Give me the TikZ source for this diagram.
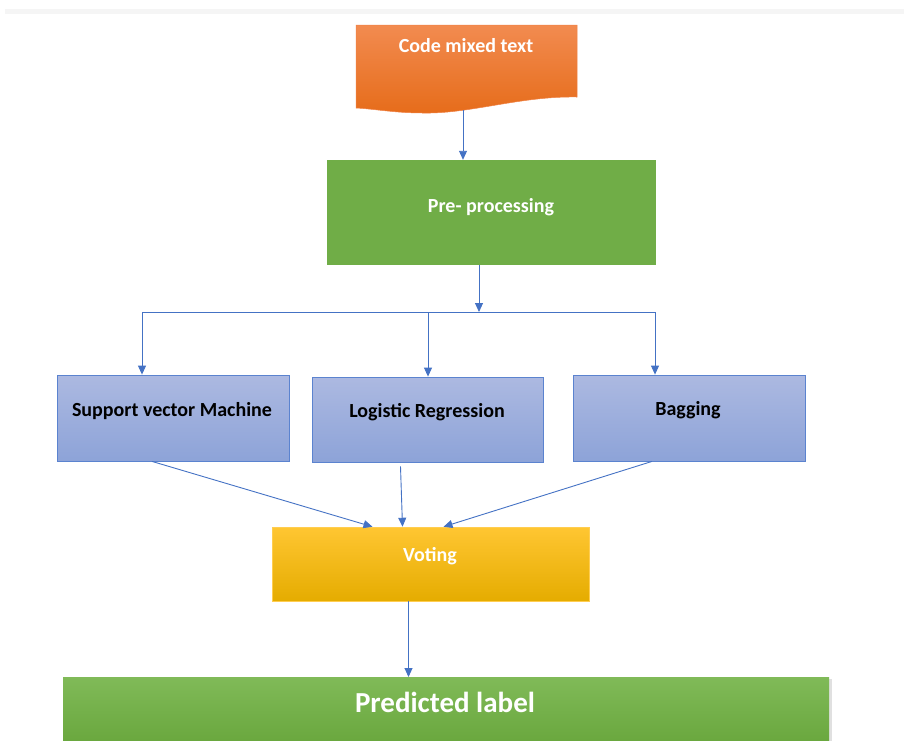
\documentclass[tikz,border=0pt]{standalone}
\usepackage{fontspec}
\setmainfont{Carlito}
\usetikzlibrary{arrows.meta}
\definecolor{arr}{HTML}{4472C4}
\definecolor{bluebd}{HTML}{5B83CF}
\definecolor{bluetop}{RGB}{172,185,225}
\definecolor{bluebot}{RGB}{141,163,216}
\definecolor{ortop}{RGB}{242,139,80}
\definecolor{orbot}{RGB}{230,108,26}
\definecolor{orbd}{RGB}{240,130,70}
\definecolor{grn}{RGB}{112,173,71}
\definecolor{grntop}{RGB}{128,186,88}
\definecolor{grnbot}{RGB}{104,166,60}
\definecolor{yltop}{RGB}{255,198,50}
\definecolor{ylmid}{RGB}{255,192,0}
\definecolor{ylbot}{RGB}{229,172,0}
\definecolor{ylbd}{RGB}{255,205,80}
\tikzset{
  x=1pt,y=-1pt,
  conn/.style={draw=arr,line width=0.9pt},
  arrw/.style={conn,-{Triangle[width=8pt,length=9pt]}},
  bluebox/.style={draw=bluebd,line width=0.8pt,top color=bluetop,bottom color=bluebot},
  lbl/.style={font=\bfseries\fontsize{20}{24}\selectfont},
}
\begin{document}
\begin{tikzpicture}
\useasboundingbox (0,0) rectangle (904,740);
% top gray band
\fill[black!4] (5,9) rectangle (904,14);
% document shape
\path[top color=ortop,bottom color=orbot,draw=orbd,line width=0.5pt]
  (356,25) -- (577,25) -- (577,97) .. controls (520,96) and (470,114) .. (423,113) .. controls (395,113) and (375,109) .. (356,108) -- cycle;
\node[lbl,text=white] (cmt) at (466,46) {Code mixed text};
\coordinate (cmtb) at (463,110);
% pre-processing
\node[fill=grn,minimum width=329pt,minimum height=105pt,inner sep=0pt] (pre) at (491.5,212.5) {};
\node[lbl,text=white] at (491,207) {Pre- processing};
% classifiers
\node[bluebox,minimum width=232pt,minimum height=86pt,inner sep=0pt] (svm) at (173,418) {};
\node[lbl] at (172,411) {Support vector Machine};
\node[bluebox,minimum width=231pt,minimum height=85pt,inner sep=0pt] (lr) at (427.5,419.5) {};
\node[lbl] at (427,412) {Logistic Regression};
\node[bluebox,minimum width=232pt,minimum height=86pt,inner sep=0pt] (bag) at (689,418) {};
\node[lbl] at (688,410) {Bagging};
% voting
\node[draw=ylbd,line width=0.5pt,top color=yltop,middle color=ylmid,bottom color=ylbot,minimum width=317pt,minimum height=74pt,inner sep=0pt] (vote) at (430.5,564) {};
\node[lbl,text=white] at (430,556) {Voting};
% predicted label
\fill[black!12] (65,679) rectangle (832,742);
\node[top color=grntop,bottom color=grnbot,minimum width=766pt,minimum height=70pt,inner sep=0pt,anchor=north west] (pred) at (63,677) {};
\node[font=\bfseries\fontsize{29}{34}\selectfont,text=white] at (445,702) {Predicted label};
% connectors
\draw[arrw] (cmtb) -- (pre.north -| cmtb);
\coordinate (jn) at (479,312);
\draw[arrw] (pre.south -| jn) -- (jn);
\coordinate (jl) at (142,312);
\coordinate (jm) at (428,312);
\coordinate (jr) at (655,312);
\draw[conn] (jl) -- (jr);
\draw[arrw] (jl) -- (svm.north -| jl);
\draw[arrw] (jm) -- (lr.north -| jm);
\draw[arrw] (jr) -- (bag.north -| jr);
\draw[arrw] ([xshift=-21pt]svm.south) -- ([xshift=-58pt]vote.north);
\draw[arrw] ([xshift=-27pt,yshift=-4pt]lr.south) -- ([xshift=-28pt]vote.north);
\draw[arrw] ([xshift=-37pt]bag.south) -- ([xshift=13pt]vote.north);
\draw[arrw] ([xshift=-22pt]vote.south) -- ([xshift=-22pt]vote.south |- pred.north);
\end{tikzpicture}
\end{document}
